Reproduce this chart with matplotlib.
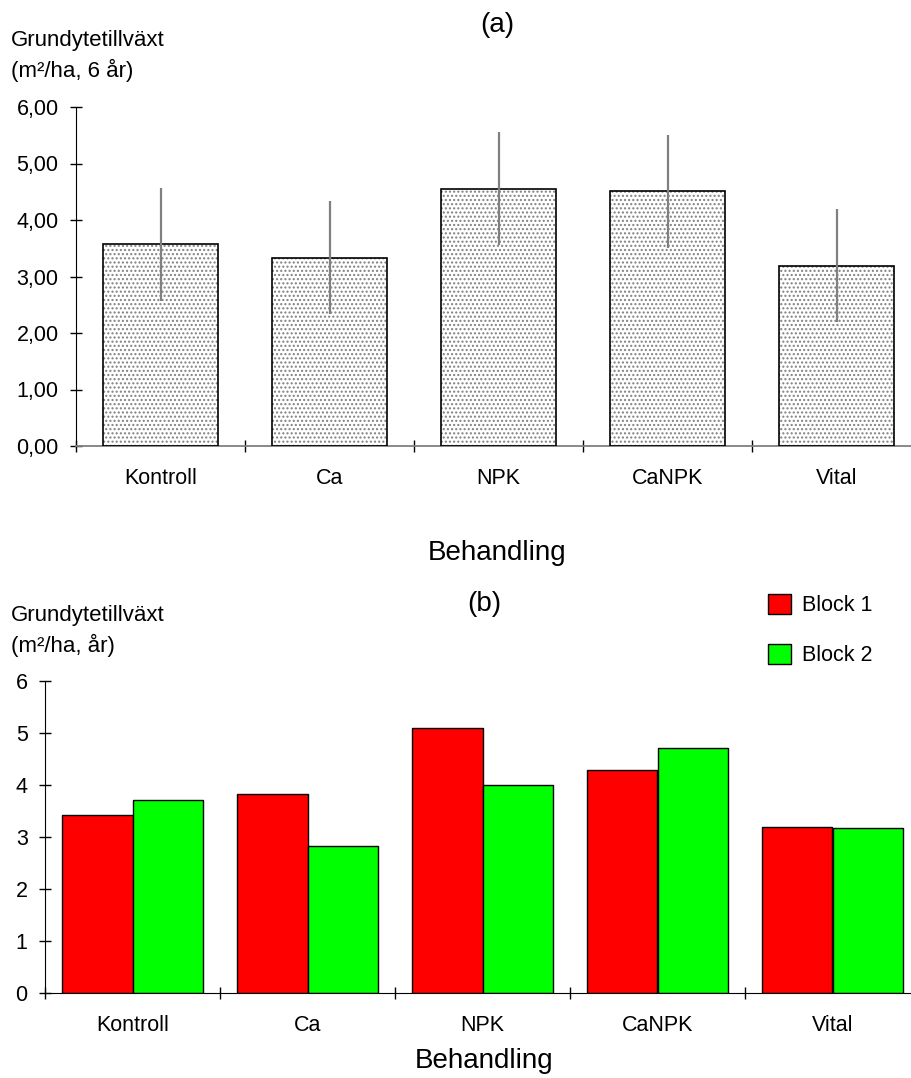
import matplotlib.pyplot as plt
import numpy as np

plt.rcParams['font.family'] = ['Liberation Sans', 'DejaVu Sans']
plt.rcParams['hatch.linewidth'] = 1.0

treatments = ["Kontroll", "Ca", "NPK", "CaNPK", "Vital"]

# (a) mean growth over 6 years, with error
mean_6yr = [3.57, 3.33, 4.55, 4.51, 3.19]
err_6yr = [1.0, 1.0, 1.0, 1.0, 1.0]

# (b) growth per block
block1 = [3.42, 3.82, 5.10, 4.28, 3.20]
block2 = [3.71, 2.82, 4.00, 4.72, 3.17]
block_labels = ["Block 1", "Block 2"]

fig = plt.figure(figsize=(9.12, 10.78), dpi=100)
x = np.arange(len(treatments))


def style_axis(ax, ymax, fmt, xcolor):
    ax.spines['top'].set_visible(False)
    ax.spines['right'].set_visible(False)
    ax.spines['left'].set_color('black')
    ax.spines['bottom'].set_color(xcolor)
    ax.set_xlim(-0.5, len(treatments) - 0.5)
    ax.set_ylim(0, ymax)
    ax.set_yticks(np.arange(0, ymax + 0.01, 1))
    ax.set_yticklabels([fmt(v) for v in np.arange(0, ymax + 0.01, 1)])
    # boundary ticks without labels, category labels at centers
    ax.set_xticks(np.arange(-0.5, len(treatments) - 0.4, 1))
    ax.set_xticklabels([])
    ax.set_xticks(x, minor=True)
    ax.set_xticklabels(treatments, minor=True)
    ax.tick_params(axis='x', which='major', direction='inout', length=9,
                   color='black', width=1)
    ax.tick_params(axis='x', which='minor', length=0, pad=16, labelsize=15.5)
    ax.tick_params(axis='y', direction='inout', length=9, width=1,
                   pad=8, labelsize=15.5)


# ---- (a)
ax1 = fig.add_axes([76 / 912, 1 - 446 / 1078, 845 / 912, 339 / 1078])
w = 0.675
ax1.bar(x, mean_6yr, w, color='white', edgecolor='#808080', hatch='....',
        linewidth=0, zorder=2)
ax1.bar(x, mean_6yr, w, color='none', edgecolor='black', linewidth=1.2,
        zorder=3)
ax1.errorbar(x, mean_6yr, yerr=err_6yr, fmt='none', ecolor='#808080',
             elinewidth=1.6, capsize=0, zorder=4)
style_axis(ax1, 6, lambda v: f"{v:.2f}".replace('.', ','), '#808080')
ax1.spines['bottom'].set_linewidth(1.3)

fig.text(11 / 912, 1 - 56 / 1078, "Grundytetillväxt\n(m²/ha, 6 år)",
         fontsize=16, ha='left', va='center', linespacing=1.4)
fig.text(497 / 912, 1 - 25 / 1078, "(a)", fontsize=20, ha='center',
         va='center')
fig.text(497 / 912, 1 - 553 / 1078, "Behandling", fontsize=20, ha='center',
         va='center')

# ---- (b)
ax2 = fig.add_axes([45 / 912, 1 - 993 / 1078, 875 / 912, 312 / 1078])
bw = 0.403
ax2.bar(x - bw / 2, block1, bw, color='#ff0000', edgecolor='black',
        linewidth=1, label=block_labels[0], zorder=2)
ax2.bar(x + bw / 2, block2, bw, color='#00ff00', edgecolor='black',
        linewidth=1, label=block_labels[1], zorder=2)
style_axis(ax2, 6, lambda v: f"{v:.0f}", 'black')

fig.text(11 / 912, 1 - 631 / 1078, "Grundytetillväxt\n(m²/ha, år)",
         fontsize=16, ha='left', va='center', linespacing=1.4)
fig.text(484 / 912, 1 - 604 / 1078, "(b)", fontsize=20, ha='center',
         va='center')
fig.text(484 / 912, 1 - 1061 / 1078, "Behandling", fontsize=20, ha='center',
         va='center')

fig.legend(loc='upper left', bbox_to_anchor=(768 / 912, 1 - 594 / 1078),
           frameon=False, fontsize=15.5, handlelength=1.05, handleheight=1.05,
           handletextpad=0.55, labelspacing=1.28, borderpad=0, borderaxespad=0)

fig.savefig("out.png", dpi=100)
